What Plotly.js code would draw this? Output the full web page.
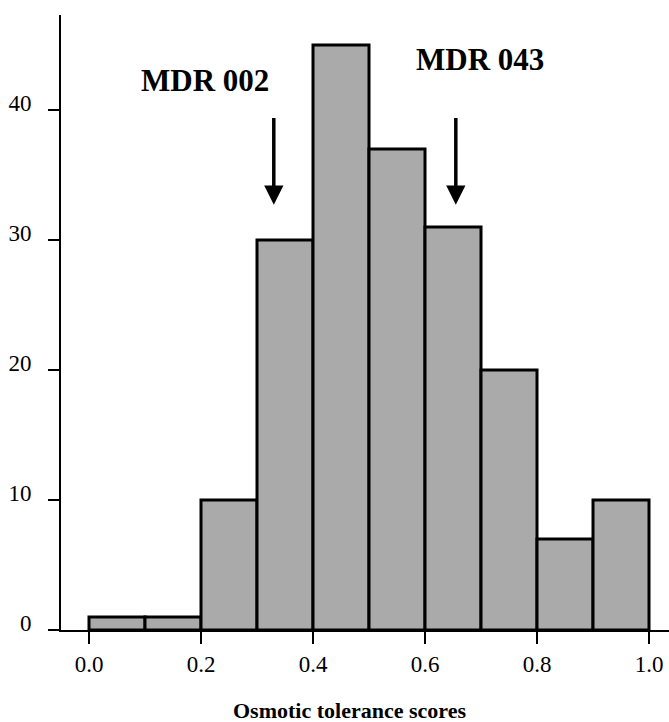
<!DOCTYPE html>
<html>
<head>
<meta charset="utf-8">
<script src="https://cdn.plot.ly/plotly-3.0.1.min.js"></script>
<style>
html,body{margin:0;padding:0;background:#fff;}
#chart{width:669px;height:722px;}
</style>
</head>
<body>
<div id="chart"></div>
<script>
// Data
var binCenters = [0.05, 0.15, 0.25, 0.35, 0.45, 0.55, 0.65, 0.75, 0.85, 0.95];
var counts = [1, 1, 10, 30, 45, 37, 31, 20, 7, 10];
var xTickVals = [0, 0.2, 0.4, 0.6, 0.8, 1.0];
var xTickText = ['0.0', '0.2', '0.4', '0.6', '0.8', '1.0'];
var yTickVals = [0, 10, 20, 30, 40];
var markerLabels = ['MDR 002', 'MDR 043'];
var markerX = [0.33, 0.655];
var arrowTop = [39.5, 39.5];
var arrowTip = [32.7, 32.7];
var labelX = [0.207, 0.698];
var labelY = [42.3, 43.9];
var xTitle = 'Osmotic tolerance scores';

var serif = 'Liberation Serif';

var trace = {
  type: 'bar',
  x: binCenters,
  y: counts,
  width: 0.1,
  marker: {color: '#aaaaaa', line: {color: '#000', width: 3}},
  hoverinfo: 'skip'
};

var annotations = [];
for (var i = 0; i < markerLabels.length; i++) {
  annotations.push({
    x: markerX[i], y: arrowTip[i], ax: markerX[i], ay: arrowTop[i],
    xref: 'x', yref: 'y', axref: 'x', ayref: 'y',
    showarrow: true, arrowhead: 2, arrowsize: 1.1, arrowwidth: 3.5, arrowcolor: '#000',
    text: ''
  });
  annotations.push({
    x: labelX[i], y: labelY[i], xref: 'x', yref: 'y',
    showarrow: false, text: '<b>' + markerLabels[i] + '</b>',
    font: {family: serif, size: 31, color: '#000'},
    xanchor: 'center', yanchor: 'middle'
  });
}
annotations.push({
  x: 0.474, y: 0, xref: 'paper', yref: 'paper',
  showarrow: false, text: '<b>' + xTitle + '</b>',
  font: {family: serif, size: 22, color: '#000'},
  xanchor: 'center', yanchor: 'middle'
});

var layout = {
  width: 669, height: 722,
  margin: {l: 61, r: 0, t: 15, b: 92, pad: 0},
  paper_bgcolor: '#fff', plot_bgcolor: '#fff',
  showlegend: false,
  bargap: 0,
  font: {family: serif, size: 22, color: '#000'},
  xaxis: {
    range: [-0.05, 1.0357],
    tickvals: xTickVals, ticktext: xTickText,
    ticks: 'outside', ticklen: 12, tickwidth: 2, tickcolor: '#000',
    showline: true, linecolor: '#000', linewidth: 2,
    showgrid: false, zeroline: false,
    tickfont: {family: serif, size: 23, color: '#000'}
  },
  yaxis: {
    range: [0, 47.3],
    tickvals: yTickVals,
    ticks: 'outside', ticklen: 11, tickwidth: 2, tickcolor: '#000',
    showline: true, linecolor: '#000', linewidth: 2,
    showgrid: false, zeroline: false,
    ticklabelstandoff: 12,
    ticklabelshift: -7,
    tickfont: {family: serif, size: 23, color: '#000'}
  },
  annotations: annotations
};

// convert title y from pixel to paper coords
layout.annotations[layout.annotations.length - 1].y = (722 - 92 - 710) / (722 - 15 - 92);

Plotly.newPlot('chart', [trace], layout, {displayModeBar: false, staticPlot: true});
</script>
</body>
</html>
